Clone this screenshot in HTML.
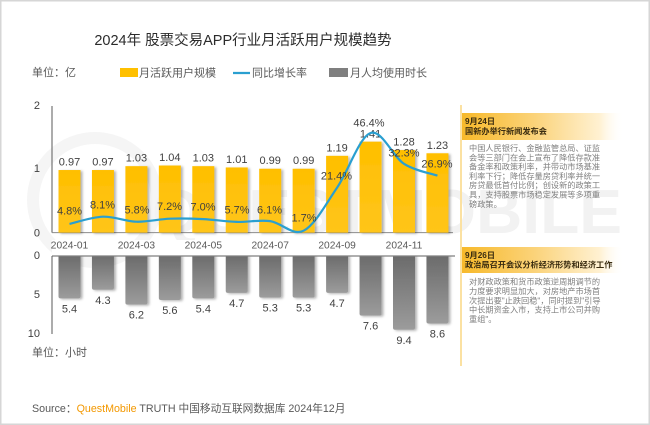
<!DOCTYPE html>
<html><head><meta charset="utf-8">
<style>
html,body{margin:0;padding:0;background:#fff;}
svg{display:block;font-family:"Liberation Sans","Noto Sans CJK SC",sans-serif;}
</style></head>
<body>
<svg width="650" height="425" viewBox="0 0 650 425" xmlns="http://www.w3.org/2000/svg">
<defs>
  <linearGradient id="yb" x1="0" y1="0" x2="0" y2="1">
    <stop offset="0" stop-color="#FFBF00"/><stop offset="1" stop-color="#FFC51A"/>
  </linearGradient>
  <linearGradient id="gb" x1="0" y1="0" x2="0" y2="1">
    <stop offset="0" stop-color="#6a6a6a"/><stop offset="1" stop-color="#9c9c9c"/>
  </linearGradient>
  <linearGradient id="hd" x1="0" y1="0" x2="1" y2="0">
    <stop offset="0" stop-color="#F7B92A"/><stop offset="0.45" stop-color="#FBD37A"/><stop offset="0.85" stop-color="#FFF1D2"/><stop offset="1" stop-color="#FFFFFF" stop-opacity="0"/>
  </linearGradient>
  <filter id="sh" x="-20%" y="-10%" width="150%" height="130%">
    <feDropShadow dx="2" dy="1" stdDeviation="1.3" flood-color="#000" flood-opacity="0.3"/>
  </filter>
</defs>
<rect x="0" y="0" width="650" height="425" fill="#fff"/>
<rect x="0.75" y="0.75" width="648.5" height="423.5" fill="none" stroke="#d6d6d6" stroke-width="1.5"/>

<!-- watermark -->
<circle cx="95" cy="200" r="62" fill="none" stroke="#f5f5f5" stroke-width="12"/>
<text x="622" y="233" font-size="62" font-weight="bold" fill="#f2f2f2" text-anchor="end" textLength="470" lengthAdjust="spacingAndGlyphs">QUESTMOBILE</text>

<!-- title -->
<text x="243" y="45" font-size="14.5" fill="#2b2b2b" text-anchor="middle">2024年 股票交易APP行业月活跃用户规模趋势</text>

<!-- legend -->
<text x="32" y="76" font-size="11" fill="#595959">单位：亿</text>
<rect x="120" y="68" width="18" height="9" fill="#FFC000"/>
<text x="139" y="76.5" font-size="11" fill="#595959">月活跃用户规模</text>
<line x1="233" y1="73" x2="250" y2="73" stroke="#2A9FD0" stroke-width="2.2"/>
<text x="252" y="76.5" font-size="11" fill="#595959">同比增长率</text>
<rect x="329" y="68" width="19" height="9" fill="#7f7f7f"/>
<text x="350" y="76.5" font-size="11" fill="#595959">月人均使用时长</text>

<!-- top axes -->
<line x1="52" y1="106" x2="52" y2="232.6" stroke="#595959" stroke-width="1"/>
<line x1="52" y1="232.6" x2="453" y2="232.6" stroke="#8c8c8c" stroke-width="1"/>
<g font-size="11" fill="#404040" text-anchor="end">
  <text x="40" y="109">2</text>
  <text x="40" y="172">1</text>
  <text x="40" y="236.5">0</text>
  <text x="40" y="259">0</text>
  <text x="40" y="298">5</text>
  <text x="40" y="337">10</text>
</g>

<!-- top bars -->
<g fill="url(#yb)" filter="url(#sh)">
  <rect x="58.5" y="170.03" width="22" height="62.57"/>
  <rect x="91.95" y="170.03" width="22" height="62.57"/>
  <rect x="125.4" y="166.16" width="22" height="66.44"/>
  <rect x="158.85" y="165.52" width="22" height="67.08"/>
  <rect x="192.3" y="166.16" width="22" height="66.44"/>
  <rect x="225.75" y="167.45" width="22" height="65.15"/>
  <rect x="259.2" y="168.74" width="22" height="63.86"/>
  <rect x="292.65" y="168.74" width="22" height="63.86"/>
  <rect x="326.1" y="155.84" width="22" height="76.76"/>
  <rect x="359.55" y="141.65" width="22" height="90.95"/>
  <rect x="393.0" y="150.04" width="22" height="82.56"/>
  <rect x="426.45" y="153.26" width="22" height="79.34"/>
</g>

<!-- top value labels -->
<g font-size="11" fill="#404040" text-anchor="middle">
  <text x="69.5" y="165.5">0.97</text>
  <text x="102.95" y="165.5">0.97</text>
  <text x="136.4" y="161.7">1.03</text>
  <text x="169.85" y="161">1.04</text>
  <text x="203.3" y="161.7">1.03</text>
  <text x="236.75" y="163">1.01</text>
  <text x="270.2" y="164.2">0.99</text>
  <text x="303.65" y="164.2">0.99</text>
  <text x="337.1" y="151.3">1.19</text>
  <text x="370.55" y="137.5">1.41</text>
  <text x="404" y="145.5">1.28</text>
  <text x="437.45" y="148.8">1.23</text>
</g>

<!-- growth line -->
<path d="M69.5,223.9 C75.08,222.7 91.8,217.07 102.95,216.7 C114.1,216.33 125.25,221.37 136.4,221.7 C147.55,222.03 158.7,219.13 169.85,218.7 C181,218.27 192.15,218.57 203.3,219.1 C214.45,219.63 225.6,221.57 236.75,221.9 C247.9,222.23 259.05,219.63 270.2,221.1 C281.35,222.57 292.5,236.28 303.65,230.7 C314.8,225.12 325.95,203.88 337.1,187.6 C348.25,171.32 359.4,136.97 370.55,133 C381.7,129.03 392.85,156.7 404,163.8 C415.15,170.9 431.88,173.63 437.45,175.6" fill="none" stroke="#2A9FD0" stroke-width="2.2"/>

<!-- growth labels -->
<g font-size="11" fill="#404040" text-anchor="middle">
  <text x="69.5" y="214.7">4.8%</text>
  <text x="102.5" y="208.3">8.1%</text>
  <text x="137" y="213.3">5.8%</text>
  <text x="169.5" y="210">7.2%</text>
  <text x="203" y="210.7">7.0%</text>
  <text x="237" y="213.3">5.7%</text>
  <text x="269.5" y="213.3">6.1%</text>
  <text x="304" y="221.7">1.7%</text>
  <text x="336.5" y="179.7">21.4%</text>
  <text x="369" y="126.5">46.4%</text>
  <text x="404" y="156.3">32.3%</text>
  <text x="437" y="167.3">26.9%</text>
</g>

<!-- x labels -->
<g font-size="10.2" fill="#595959" text-anchor="middle">
  <text x="69.5" y="248.6">2024-01</text>
  <text x="136.4" y="248.6">2024-03</text>
  <text x="203.3" y="248.6">2024-05</text>
  <text x="270.2" y="248.6">2024-07</text>
  <text x="337.1" y="248.6">2024-09</text>
  <text x="404" y="248.6">2024-11</text>
</g>

<!-- bottom bars -->
<g fill="url(#gb)" filter="url(#sh)">
  <rect x="58.5" y="254" width="22" height="44.39" rx="2"/>
  <rect x="91.95" y="254" width="22" height="35.76" rx="2"/>
  <rect x="125.4" y="254" width="22" height="50.67" rx="2"/>
  <rect x="158.85" y="254" width="22" height="45.96" rx="2"/>
  <rect x="192.3" y="254" width="22" height="44.39" rx="2"/>
  <rect x="225.75" y="254" width="22" height="38.9" rx="2"/>
  <rect x="259.2" y="254" width="22" height="43.6" rx="2"/>
  <rect x="292.65" y="254" width="22" height="43.6" rx="2"/>
  <rect x="326.1" y="254" width="22" height="38.9" rx="2"/>
  <rect x="359.55" y="254" width="22" height="61.66" rx="2"/>
  <rect x="393.0" y="254" width="22" height="75.79" rx="2"/>
  <rect x="426.45" y="254" width="22" height="69.51" rx="2"/>
</g>
<rect x="52" y="240" width="403" height="15.5" fill="#fff"/>
<g font-size="10.2" fill="#595959" text-anchor="middle">
  <text x="69.5" y="248.6">2024-01</text>
  <text x="136.4" y="248.6">2024-03</text>
  <text x="203.3" y="248.6">2024-05</text>
  <text x="270.2" y="248.6">2024-07</text>
  <text x="337.1" y="248.6">2024-09</text>
  <text x="404" y="248.6">2024-11</text>
</g>
<line x1="52" y1="256" x2="455" y2="256" stroke="#7f7f7f" stroke-width="1.2"/>
<line x1="52" y1="256" x2="52" y2="334" stroke="#595959" stroke-width="1"/>

<!-- bottom labels -->
<g font-size="11" fill="#404040" text-anchor="middle">
  <text x="69.5" y="312.4">5.4</text>
  <text x="102.95" y="303.8">4.3</text>
  <text x="136.4" y="318.7">6.2</text>
  <text x="169.85" y="314">5.6</text>
  <text x="203.3" y="312.4">5.4</text>
  <text x="236.75" y="306.9">4.7</text>
  <text x="270.2" y="311.6">5.3</text>
  <text x="303.65" y="311.6">5.3</text>
  <text x="337.1" y="306.9">4.7</text>
  <text x="370.55" y="329.7">7.6</text>
  <text x="404" y="343.8">9.4</text>
  <text x="437.45" y="337.5">8.6</text>
</g>

<text x="32" y="356" font-size="11" fill="#595959">单位：小时</text>

<!-- source -->
<text x="32" y="412" font-size="10.7" fill="#595959">Source：<tspan fill="#F39800">QuestMobile</tspan> TRUTH 中国移动互联网数据库 2024年12月</text>

<!-- side panel -->
<line x1="461" y1="105" x2="461" y2="366" stroke="#FBE1A2" stroke-width="2"/>
<rect x="462" y="113" width="162" height="27" fill="url(#hd)"/>
<text x="465" y="124" font-size="8.2" font-weight="bold" fill="#3a2c10">9月24日</text>
<text x="465" y="134" font-size="8.2" font-weight="bold" fill="#3a2c10">国新办举行新闻发布会</text>
<g font-size="8.2" fill="#808080">
  <text x="469" y="151">中国人民银行、金融监管总局、证监</text>
  <text x="469" y="160.3">会等三部门在会上宣布了降低存款准</text>
  <text x="469" y="169.6">备金率和政策利率，并带动市场基准</text>
  <text x="469" y="178.9">利率下行；降低存量房贷利率并统一</text>
  <text x="469" y="188.2">房贷最低首付比例；创设新的政策工</text>
  <text x="469" y="197.5">具，支持股票市场稳定发展等多项重</text>
  <text x="469" y="206.8">磅政策。</text>
</g>

<rect x="462" y="247" width="162" height="26" fill="url(#hd)"/>
<text x="465" y="258" font-size="8.2" font-weight="bold" fill="#3a2c10">9月26日</text>
<text x="465" y="267.5" font-size="8.2" font-weight="bold" fill="#3a2c10">政治局召开会议分析经济形势和经济工作</text>
<g font-size="8.2" fill="#808080">
  <text x="469" y="284.7">对财政政策和货币政策逆周期调节的</text>
  <text x="469" y="294">力度要求明显加大，对房地产市场首</text>
  <text x="469" y="303.3">次提出要"止跌回稳"，同时提到"引导</text>
  <text x="469" y="312.6">中长期资金入市，支持上市公司并购</text>
  <text x="469" y="322">重组"。</text>
</g>
</svg>
</body></html>
